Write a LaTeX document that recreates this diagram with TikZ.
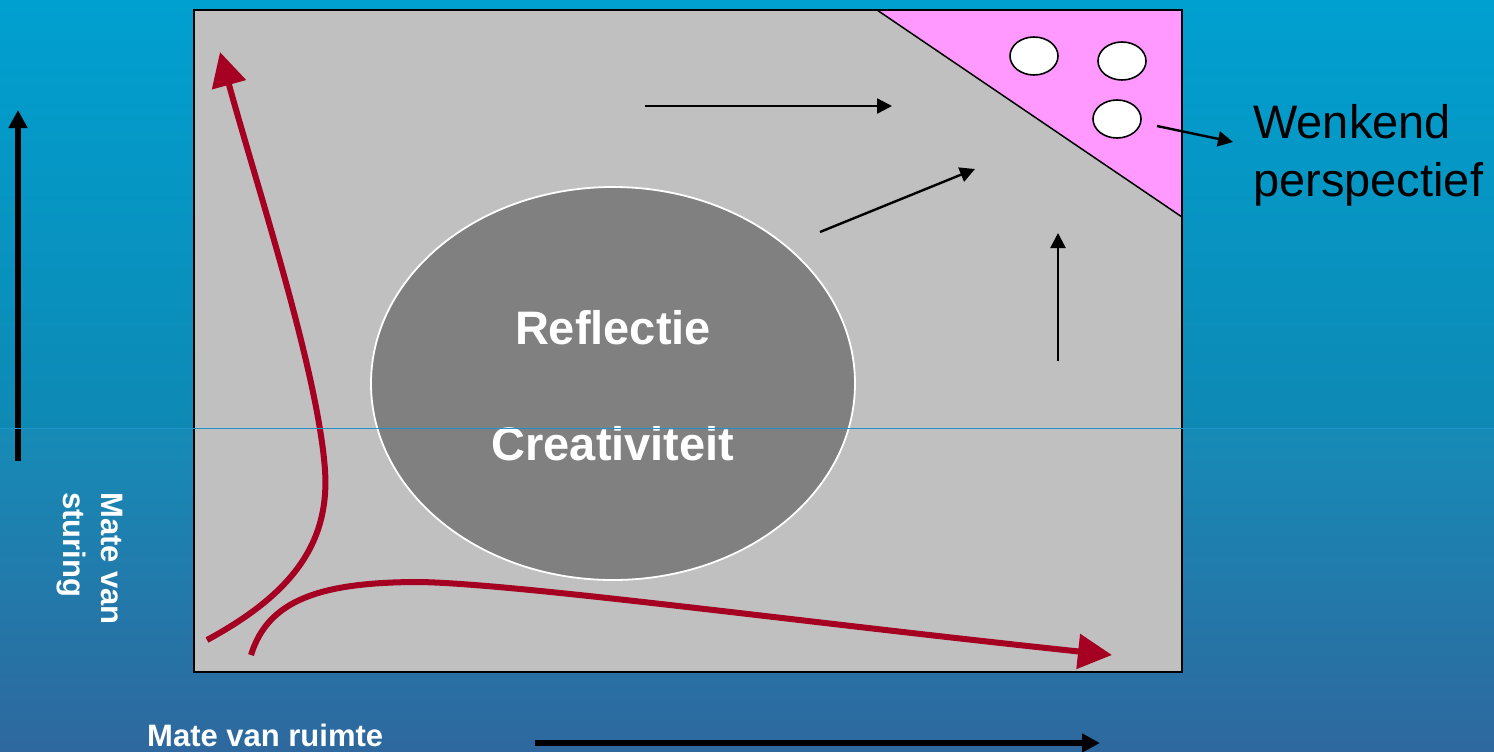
\documentclass[tikz,border=0pt]{standalone}
\usepackage{fontspec}
\setmainfont{Liberation Sans}
\usetikzlibrary{arrows.meta,shapes.geometric}
\definecolor{bgtop}{RGB}{0,160,208}
\definecolor{bgmidA}{RGB}{14,137,180}
\definecolor{bgmidB}{RGB}{22,139,183}
\definecolor{bgbot}{RGB}{46,104,158}
\definecolor{boxgray}{RGB}{192,192,192}
\definecolor{ellgray}{RGB}{128,128,128}
\definecolor{pinkc}{RGB}{255,153,255}
\definecolor{redc}{RGB}{165,0,33}
\definecolor{seam}{RGB}{32,146,200}
\begin{document}
\begin{tikzpicture}[x=1pt,y=-1pt,
  redarrow/.style={draw=redc,line width=6pt,-{Triangle[length=34pt,width=34pt]}},
  blackarrow/.style={draw=black,line width=2.4pt,-{Triangle[length=15pt,width=15pt]}},
  axisarrow/.style={draw=black,line width=6pt,-{Triangle[length=18pt,width=18pt]}},
  wdot/.style={ellipse,draw=black,line width=1.6pt,fill=white,minimum width=48pt,minimum height=38pt,inner sep=0pt},
  bigw/.style={text=white,font=\bfseries\fontsize{47}{56}\selectfont,inner sep=0pt},
  axlabel/.style={text=white,font=\bfseries\fontsize{31}{38}\selectfont,inner sep=0pt},
  plainlabel/.style={text=black,font=\fontsize{47}{58}\selectfont,inner sep=0pt}
]
\useasboundingbox (0,0) rectangle (1494,752);
% background
\shade[top color=bgtop,bottom color=bgmidA] (0,0) rectangle (1494,428);
\shade[top color=bgmidB,bottom color=bgbot] (0,428) rectangle (1494,752);

% main box
\fill[boxgray] (194,10) rectangle (1182,672);
\fill[pinkc] (877,10) -- (1182,10) -- (1182,217) -- cycle;
\draw[line width=1.5pt] (877,10) -- (1182,217);
\draw[line width=2.5pt] (194,10) rectangle (1182,672);

% white dots
\node[wdot] (d1) at (1034,56) {};
\node[wdot] (d2) at (1122,61) {};
\node[wdot] (d3) at (1117,119) {};

% central ellipse
\node[ellipse,fill=ellgray,draw=white,line width=1.8pt,minimum width=484pt,minimum height=393pt,inner sep=0pt] (refl) at (613,383.5) {};
\node[bigw] (t1) at (613,328) {Reflectie};
\node[bigw] (t2) at (613,444) {Creativiteit};

% label Wenkend perspectief
\node[plainlabel,align=left,anchor=north west] (wp) at (1253,104) {Wenkend\\perspectief};
\coordinate (wa) at (1157,126);
\coordinate (wb) at (1233,142);
\draw[blackarrow] (wa) -- (wb);

% black arrows in the box
\coordinate (a1s) at (645,106);
\coordinate (a1e) at (892,106);
\coordinate (a2s) at (820,232);
\coordinate (a2e) at (975,169);
\coordinate (a3s) at (1058,361);
\coordinate (a3e) at (1058,233);
\draw[blackarrow] (a1s) -- (a1e);
\draw[blackarrow] (a2s) -- (a2e);
\draw[blackarrow] (a3s) -- (a3e);

% red curves
\coordinate (r1s) at (207,640);
\coordinate (r1m) at (325,470);
\coordinate (r1e) at (220,52);
\draw[redarrow] (r1s) .. controls (290,595) and (330,545) .. (r1m)
   .. controls (318,372) and (258,190) .. (r1e);
\coordinate (r2s) at (251,655);
\coordinate (r2m) at (420,582);
\coordinate (r2e) at (1112,655);
\draw[redarrow] (r2s) .. controls (268,600) and (320,582) .. (r2m)
   .. controls (520,584) and (800,622) .. (r2e);

% axes
\coordinate (vs) at (18,461);
\coordinate (ve) at (18,110);
\draw[axisarrow] (vs) -- (ve);
\coordinate (hs) at (535,743);
\coordinate (he) at (1100,743);
\draw[axisarrow] (hs) -- (he);

\node[axlabel,align=left,rotate=-90,anchor=north west] (ms) at (123,492) {Mate van\\sturing};
\node[axlabel,anchor=west] (mr) at (147,735) {Mate van ruimte};

% seam line
\draw[seam,line width=1pt] (0,428) -- (1494,428);
\end{tikzpicture}
\end{document}
